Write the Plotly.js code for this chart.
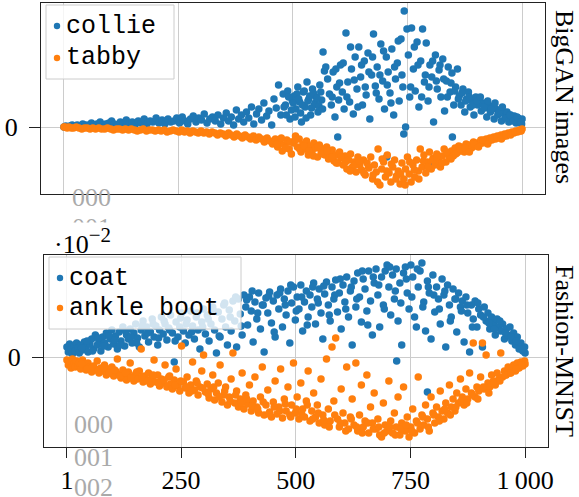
<!DOCTYPE html>
<html>
<head>
<meta charset="utf-8">
<script src="https://cdn.plot.ly/plotly-3.0.1.min.js"></script>
<style>html,body{margin:0;padding:0;background:#fff;}#chart{width:579px;height:497px;}</style>
</head>
<body>
<div id="chart"></div>
<script>
// ---------- data ----------
const tickVals = [1, 250, 500, 750, 1000];
const tickText = ['1', '250', '500', '750', '1\u2009000'];
const rowLabels = ['BigGAN images', 'Fashion-MNIST'];
const seriesNames = ['collie', 'tabby', 'coat', 'ankle boot'];

// BigGAN images — collie
const xCollie = [1,5,9,14,19,24,30,36,42,48,55,61,67,73,80,86,92,99,105,111,118,124,131,137,143,150,156,163,169,176,182,189,195,202,208,215,221,228,234,241,
247,253,259,265,271,277,283,289,295,301,307,313,319,325,331,337,343,349,
355,360,366,371,377,382,388,393,399,404,410,415,421,426,432,437,443,448,454,459,464,469,474,479,484,489,494,499,
503,507,511,515,519,523,527,531,535,539,543,547,551,555,559,563,566,569,572,
576,580,584,588,592,596,598,600,604,608,612,616,620,624,628,632,636,640,644,648,652,656,660,664,668,672,676,680,
684,688,692,696,700,704,705,708,712,716,720,724,728,732,736,740,742,743,746,749,752,755,
759,763,767,771,775,779,783,787,791,795,799,800,803,804,807,811,815,819,823,827,831,835,839,843,847,848,851,855,859,
863,867,871,875,879,883,887,891,895,899,903,907,911,915,919,923,927,931,935,939,943,947,951,955,959,963,967,971,975,979,983,987,991,995,999,1000,
481,486,491,497,501,505,509,513,517,521,525,529,533,537,541,545,549,553,557,561,565,
586,594,602,610,618,626,634,642,650,658,666,674,682,690,698,706,714,722,730,738,
757,765,773,781,789,797,805,813,821,829,837,845,853,861,869,877,885,893,901,909,917,925,933,941,949,957,965,973,981,989,997];
const yCollie = [0.00,0.01,0.00,0.01,0.02,0.01,0.02,0.01,0.03,0.02,0.02,0.04,0.02,0.03,0.05,0.02,0.03,0.04,0.06,0.03,0.02,0.05,0.04,0.07,0.03,0.05,0.02,0.06,0.04,0.08,0.03,0.06,0.05,0.09,0.04,0.07,0.03,0.08,0.05,0.06,
0.09,0.04,0.10,0.06,0.03,0.08,0.11,0.05,0.09,0.07,0.13,0.04,0.08,0.10,0.06,0.12,0.03,0.09,
0.14,0.06,0.10,0.02,0.17,0.08,0.12,0.05,0.15,0.09,0.20,0.03,0.13,0.18,0.07,0.24,0.11,0.16,0.02,0.28,0.19,0.42,0.12,0.33,0.22,0.36,0.08,0.26,
0.31,0.18,0.40,0.25,0.05,0.35,0.20,0.45,0.28,0.12,0.38,0.22,0.30,0.15,0.42,0.27,0.75,0.56,0.60,
0.48,0.33,0.22,0.55,0.10,0.40,-0.10,0.27,0.62,0.35,0.18,0.94,0.45,0.25,0.58,0.13,0.70,0.38,0.80,0.50,0.22,0.66,0.32,0.74,0.08,0.52,0.93,0.41,
0.60,0.28,0.83,0.46,0.18,0.70,-0.30,0.55,0.34,0.78,0.12,0.48,0.64,0.26,0.88,0.40,-0.07,1.16,0.00,0.98,0.72,0.30,
0.99,0.58,0.36,0.85,0.20,0.66,0.98,0.45,0.84,0.26,0.62,-0.40,0.50,-0.38,0.05,0.72,0.38,0.57,0.30,0.68,0.16,0.46,0.60,0.35,0.54,-0.10,0.22,0.40,0.58,
0.31,0.22,0.38,0.15,0.28,0.35,0.20,0.26,0.12,0.30,0.22,0.27,0.16,0.24,0.19,0.10,0.22,0.15,0.20,0.08,0.18,0.12,0.16,0.06,0.14,0.10,0.15,0.05,0.12,0.08,0.11,0.04,0.09,0.06,0.03,0.08,
0.20,0.12,0.30,0.17,0.24,0.10,0.33,0.28,0.14,0.22,0.36,0.09,0.26,0.31,0.19,0.34,0.24,0.29,0.21,0.35,0.18,
0.30,0.58,0.44,0.64,0.30,0.80,0.47,0.20,0.62,0.40,0.55,0.70,0.34,0.52,0.76,0.42,0.24,0.60,0.86,0.52,
0.40,0.80,0.62,0.30,0.52,0.40,0.66,0.46,0.62,0.48,0.30,0.44,0.36,0.28,0.34,0.26,0.30,0.22,0.26,0.30,0.20,0.26,0.18,0.24,0.14,0.20,0.09,0.12,0.06,0.10,0.05];

// BigGAN images — tabby
const xTabby = [1,4,8,12,17,22,28,34,40,46,52,58,64,70,77,83,90,96,103,109,116,122,129,135,142,148,155,161,168,174,181,187,194,200,207,213,220,226,233,239,
246,252,258,264,270,276,282,288,294,300,306,312,318,324,330,336,342,348,354,360,366,372,378,384,390,396,402,408,414,420,426,432,438,444,450,456,462,467,472,477,482,487,492,497,
502,506,510,514,518,522,526,530,534,538,542,546,550,554,558,562,566,570,574,578,582,586,590,594,598,602,606,610,614,618,622,626,630,634,638,642,646,650,654,658,662,666,670,674,678,682,686,690,694,698,
702,706,710,714,718,722,726,730,734,738,742,746,750,754,758,762,766,770,774,778,782,786,790,794,798,802,806,810,814,818,822,826,830,834,838,842,846,850,854,858,862,866,870,874,878,882,886,890,894,898,
902,906,910,914,918,922,926,930,934,938,942,946,950,954,958,962,966,970,974,978,982,986,990,994,998,1000,
465,475,485,495,505,515,525,535,545,555,565,575,585,595,605,615,625,635,645,655,665,675,685,695,705,715,725,735,745,755,765,775,785,795,805,815,825,835,845,855,865,875,885,895,905,915,925,935,945,955,965,975,985,995];
const yTabby = [0.00,0.00,-0.01,0.00,-0.01,-0.01,0.00,-0.01,-0.02,-0.01,-0.01,-0.02,-0.01,-0.02,-0.01,-0.02,-0.02,-0.01,-0.02,-0.03,-0.02,-0.02,-0.03,-0.02,-0.03,-0.02,-0.03,-0.04,-0.03,-0.02,-0.04,-0.03,-0.03,-0.04,-0.03,-0.04,-0.03,-0.05,-0.04,-0.03,
-0.04,-0.05,-0.03,-0.05,-0.04,-0.06,-0.04,-0.05,-0.06,-0.04,-0.06,-0.05,-0.07,-0.05,-0.06,-0.08,-0.06,-0.07,-0.09,-0.06,-0.08,-0.10,-0.07,-0.09,-0.11,-0.08,-0.10,-0.12,-0.09,-0.13,-0.10,-0.12,-0.15,-0.11,-0.14,-0.17,-0.12,-0.20,-0.15,-0.24,-0.18,-0.13,-0.22,-0.27,
-0.16,-0.09,-0.20,-0.12,-0.25,-0.17,-0.22,-0.14,-0.28,-0.19,-0.24,-0.16,-0.21,-0.30,-0.18,-0.25,-0.22,-0.28,-0.20,-0.32,-0.26,-0.23,-0.34,-0.28,-0.36,-0.25,-0.31,-0.38,-0.29,-0.42,-0.33,-0.27,-0.40,-0.35,-0.45,-0.30,-0.38,-0.43,-0.33,-0.48,-0.36,-0.41,-0.30,-0.52,-0.38,-0.45,-0.22,-0.58,-0.42,-0.35,
-0.50,-0.28,-0.46,-0.55,-0.40,-0.33,-0.49,-0.44,-0.57,-0.36,-0.52,-0.42,-0.30,-0.47,-0.55,-0.38,-0.50,-0.33,-0.44,-0.22,-0.40,-0.28,-0.46,-0.35,-0.25,-0.42,-0.31,-0.38,-0.27,-0.34,-0.40,-0.29,-0.22,-0.35,-0.27,-0.31,-0.24,-0.29,-0.21,-0.26,-0.19,-0.24,-0.20,-0.25,-0.17,-0.22,-0.18,-0.21,-0.15,-0.19,
-0.16,-0.18,-0.13,-0.16,-0.14,-0.12,-0.15,-0.11,-0.13,-0.10,-0.12,-0.09,-0.11,-0.08,-0.10,-0.07,-0.09,-0.06,-0.07,-0.05,-0.06,-0.04,-0.05,-0.03,-0.04,-0.02,
-0.17,-0.11,-0.21,-0.15,-0.13,-0.22,-0.19,-0.24,-0.29,-0.20,-0.27,-0.24,-0.30,-0.36,-0.30,-0.35,-0.44,-0.38,-0.34,-0.46,-0.40,-0.48,-0.55,-0.32,-0.44,-0.37,-0.52,-0.47,-0.58,-0.35,-0.43,-0.52,-0.34,-0.40,-0.33,-0.30,-0.36,-0.25,-0.32,-0.27,-0.22,-0.21,-0.25,-0.17,-0.20,-0.13,-0.17,-0.12,-0.10,-0.12,-0.08,-0.08,-0.05,-0.04];

// Fashion-MNIST — coat (×10^-2)
const xCoat = [1,4,7,10,13,16,19,22,25,28,31,35,39,43,47,51,55,59,63,67,71,75,79,83,87,91,95,99,103,107,111,115,119,123,127,131,135,139,143,147,151,155,159,163,167,171,175,179,183,187,191,195,199,
203,207,211,215,219,223,227,231,235,239,243,247,251,255,259,263,267,271,275,279,283,287,291,295,299,303,307,311,315,319,323,327,331,335,339,343,347,351,355,359,363,367,371,375,379,383,387,391,395,399,
403,407,411,415,419,423,427,431,435,439,443,447,451,455,459,463,467,471,475,479,483,487,491,495,499,503,507,511,515,519,523,527,531,535,539,543,547,551,555,559,563,567,571,575,579,583,587,591,595,599,
603,607,611,615,619,623,627,631,635,639,643,647,651,655,659,663,667,671,675,679,683,687,691,695,699,703,707,711,715,719,720,723,727,731,735,739,743,747,751,755,759,763,767,771,775,779,783,787,787,791,795,799,
803,807,811,815,819,823,827,831,835,839,843,847,851,855,859,863,867,871,875,879,883,887,891,895,899,903,907,911,915,919,923,927,931,935,939,943,947,951,955,959,963,967,971,975,979,983,987,991,995,999,1000,
33,45,57,69,81,93,105,117,129,141,153,165,177,189,201,213,225,237,249,261,273,285,297,309,321,333,345,357,369,381,393,405,417,429,441,453,465,477,489,501,513,525,537,549,561,573,585,597,609,621,633,645,657,669,681,693,705,717,729,741,753,765,777,789,801,813,825,837,849,861,873,885,897,909,921,933,945,957,969,981,993];
const yCoat = [0.10,0.05,0.13,0.08,0.03,0.11,0.06,0.14,0.09,0.04,0.12,0.07,0.15,0.10,0.05,0.13,0.18,0.08,0.22,0.12,0.16,0.06,0.20,0.14,0.24,0.10,0.18,0.27,0.13,0.21,0.08,0.25,0.16,0.30,0.11,0.22,0.18,0.28,0.14,0.24,0.33,0.19,0.10,0.27,0.36,0.21,0.30,0.15,0.25,0.38,0.20,0.31,0.12,
0.27,0.40,0.23,0.33,0.17,0.29,0.42,0.24,-0.05,0.35,0.20,0.30,0.44,0.26,0.14,0.37,0.22,0.46,0.31,0.18,0.40,0.27,0.08,0.35,0.48,0.23,0.42,0.16,0.33,0.50,0.27,0.04,0.45,0.20,0.38,0.52,0.30,0.12,0.47,0.26,0.56,0.36,0.10,0.58,0.43,0.22,0.62,0.50,0.32,0.60,
0.46,0.15,0.55,0.38,0.64,0.28,0.52,0.05,0.59,0.44,0.65,0.34,0.56,0.20,0.62,0.48,0.68,0.30,0.58,0.42,0.66,0.14,0.54,0.70,0.37,0.60,0.48,0.72,0.26,0.55,0.66,0.40,0.62,0.50,0.74,0.33,0.58,0.68,0.44,0.18,0.63,0.75,0.52,0.36,0.70,0.58,0.77,0.45,0.64,0.28,
0.72,0.55,0.80,0.40,0.66,0.12,0.76,0.50,0.84,0.60,0.35,0.78,0.68,0.46,0.86,0.56,0.22,0.74,0.88,0.62,0.30,0.80,0.52,0.86,0.92,0.70,0.42,0.82,0.58,0.88,-0.04,0.36,0.74,0.12,0.84,0.90,0.64,0.48,0.92,0.80,0.40,0.30,0.70,0.86,0.94,0.55,0.26,0.76,-0.35,0.64,0.18,0.82,
0.45,0.70,0.58,0.33,0.78,0.62,0.10,0.72,0.52,0.40,0.68,0.58,0.25,0.64,0.50,0.56,0.15,0.60,0.44,0.05,0.52,0.38,0.56,0.30,0.48,0.42,0.10,0.50,0.36,0.44,0.28,0.40,0.34,0.22,0.38,0.30,0.26,0.33,0.18,0.28,0.22,0.30,0.16,0.24,0.12,0.20,0.08,0.14,0.06,0.10,0.04,
0.09,0.16,0.06,0.19,0.11,0.21,0.17,0.12,0.26,0.20,0.14,0.31,0.24,0.33,0.19,0.36,0.27,0.16,0.39,0.33,0.25,0.44,0.30,0.38,0.46,0.21,0.54,0.40,0.60,0.31,0.57,0.66,0.44,0.52,0.61,0.25,0.64,0.52,0.72,0.46,0.60,0.32,0.70,0.54,0.71,0.42,0.62,0.78,0.48,0.70,0.58,0.86,0.32,0.80,0.72,0.48,0.90,0.66,0.54,0.78,0.60,0.88,0.50,0.70,0.62,0.48,0.66,0.36,0.58,0.46,0.52,0.30,0.54,0.40,0.34,0.28,0.36,0.24,0.20,0.16,0.08];

// Fashion-MNIST — ankle boot (×10^-2)
const xBoot = [1,4,7,10,13,16,19,22,25,28,31,35,39,43,47,51,55,59,63,67,71,75,79,83,87,91,95,99,103,107,111,115,119,123,127,131,135,139,143,147,151,155,159,163,167,171,175,179,183,187,191,195,199,
203,207,211,215,219,223,227,231,235,239,243,247,251,255,259,263,267,271,275,279,283,287,291,295,299,303,307,311,315,319,323,327,331,335,339,343,347,351,355,359,363,367,371,375,379,383,387,391,395,399,
403,407,411,415,419,423,427,431,435,439,443,447,451,455,459,463,467,471,475,479,483,487,491,495,499,503,507,511,515,519,523,527,531,535,539,543,547,551,555,559,563,567,571,575,579,583,587,591,595,599,
603,607,611,615,619,623,627,631,635,639,643,647,651,655,659,663,667,671,675,679,683,687,691,695,699,703,707,711,715,719,723,727,731,735,739,743,747,751,755,759,763,767,771,775,779,783,787,791,795,799,
803,807,811,815,819,823,827,831,835,839,843,847,851,855,859,863,867,871,875,879,883,887,891,895,899,903,907,911,915,919,923,927,931,935,939,943,947,951,955,959,963,967,971,975,979,983,987,991,995,999,1000,
33,45,57,69,81,93,105,117,129,141,153,165,177,189,201,213,225,237,249,261,273,285,297,309,321,333,345,357,369,381,393,405,417,429,441,453,465,477,489,501,513,525,537,549,561,573,585,597,609,621,633,645,657,669,681,693,705,717,729,741,753,765,777,789,801,813,825,837,849,861,873,885,897,909,921,933,945,957,969,981,993];
const yBoot = [-0.03,-0.08,-0.05,-0.11,-0.02,-0.07,-0.10,-0.04,-0.09,-0.06,-0.12,-0.03,-0.08,-0.13,-0.06,-0.10,-0.15,-0.09,-0.12,-0.04,-0.16,-0.11,-0.14,-0.08,-0.18,-0.12,-0.15,-0.10,-0.19,-0.14,-0.02,-0.17,-0.21,-0.13,-0.18,-0.23,-0.15,-0.06,-0.20,-0.24,-0.17,-0.22,-0.14,0.08,-0.25,-0.19,-0.23,-0.16,-0.27,-0.21,-0.03,-0.25,-0.18,
-0.29,-0.22,-0.26,-0.08,-0.30,-0.20,-0.27,-0.32,-0.23,-0.12,-0.29,-0.34,0.11,-0.25,-0.31,-0.20,-0.36,-0.28,-0.05,-0.33,-0.24,-0.38,-0.30,-0.14,0.02,-0.35,-0.27,-0.41,-0.32,-0.18,-0.43,-0.36,-0.26,-0.08,-0.45,-0.38,-0.30,-0.48,-0.40,-0.22,0.04,-0.46,-0.34,-0.50,-0.42,-0.16,-0.52,-0.38,-0.47,-0.28,
-0.54,-0.44,-0.20,-0.50,-0.56,-0.40,-0.10,-0.58,-0.48,-0.33,-0.55,-0.60,-0.45,-0.24,-0.57,-0.50,-0.12,-0.61,-0.42,-0.54,-0.30,-0.58,-0.48,-0.06,-0.56,-0.40,-0.62,-0.26,-0.52,-0.60,-0.44,-0.14,-0.64,-0.54,-0.36,-0.60,-0.48,-0.66,-0.22,-0.58,-0.68,-0.02,-0.52,-0.64,0.10,-0.44,0.19,-0.62,-0.70,-0.32,
-0.56,-0.66,-0.10,-0.72,-0.60,-0.42,-0.68,-0.06,-0.74,-0.58,-0.28,-0.70,-0.64,-0.18,-0.76,-0.50,-0.66,-0.36,-0.72,-0.62,-0.78,-0.80,-0.46,-0.68,-0.74,-0.24,-0.64,-0.76,-0.56,-0.70,-0.40,-0.78,-0.66,-0.30,-0.74,-0.60,-0.80,-0.70,-0.52,-0.76,-0.64,-0.20,-0.72,-0.58,-0.68,-0.48,-0.62,-0.74,-0.40,-0.56,
-0.66,-0.50,-0.60,-0.34,-0.54,-0.62,-0.46,-0.56,-0.28,-0.50,-0.42,-0.54,-0.36,-0.46,-0.22,-0.40,-0.48,-0.32,-0.42,-0.16,-0.36,0.14,-0.40,-0.30,-0.34,-0.20,0.14,-0.32,0.02,-0.26,-0.30,-0.18,-0.24,-0.28,-0.16,-0.22,0.04,-0.20,-0.14,-0.18,-0.10,-0.16,-0.12,-0.08,-0.14,-0.06,-0.11,-0.05,-0.09,-0.04,-0.07,
-0.07,-0.12,-0.10,-0.14,-0.11,-0.16,-0.13,-0.19,-0.16,-0.21,-0.15,-0.20,-0.24,-0.18,-0.26,-0.23,-0.19,-0.28,-0.24,-0.30,-0.34,-0.26,-0.31,-0.37,-0.30,-0.40,-0.34,-0.44,-0.38,-0.46,-0.42,-0.49,-0.52,-0.45,-0.57,-0.50,-0.54,-0.47,-0.60,-0.52,-0.57,-0.48,-0.62,-0.56,-0.63,-0.70,-0.58,-0.66,-0.74,-0.62,-0.70,-0.76,-0.66,-0.72,-0.70,-0.76,-0.70,-0.78,-0.72,-0.68,-0.74,-0.66,-0.60,-0.70,-0.58,-0.64,-0.52,-0.58,-0.50,-0.44,-0.46,-0.38,-0.42,-0.30,-0.36,-0.26,-0.24,-0.18,-0.16,-0.12,-0.08];

// ---------- layout helpers (pixel -> paper) ----------
const W = 579, H = 497;
const px = v => v / W;
const py = v => 1 - v / H;
const BLUE = '#1f77b4', ORANGE = '#ff7f0e';
const SERIF = 'Liberation Serif, Times New Roman, serif';
const MONO = 'Liberation Mono, Courier New, monospace';

function sc(x, y, color, name, xa, ya) {
  return {type: 'scatter', mode: 'markers', x: x, y: y, name: name, xaxis: xa, yaxis: ya,
    marker: {color: color, size: 7.5, line: {width: 0}}, showlegend: false, hoverinfo: 'skip'};
}
const data = [
  sc(xCollie, yCollie, BLUE, seriesNames[0], 'x', 'y'),
  sc(xTabby, yTabby, ORANGE, seriesNames[1], 'x', 'y'),
  sc(xCoat, yCoat, BLUE, seriesNames[2], 'x2', 'y2'),
  sc(xBoot, yBoot, ORANGE, seriesNames[3], 'x2', 'y2')
];

const xr = [-48.95, 1049.95];
const common = {showgrid: true, gridcolor: '#cccccc', gridwidth: 1, zeroline: false,
  showline: true, mirror: true, linecolor: '#222', linewidth: 1, fixedrange: true};
const tickfont = {family: SERIF, size: 26, color: '#000'};

const layout = {
  width: W, height: H, margin: {l: 0, r: 0, t: 0, b: 0},
  paper_bgcolor: '#fff', plot_bgcolor: '#fff', showlegend: false, hovermode: false,
  xaxis: Object.assign({}, common, {domain: [px(41), px(545)], anchor: 'y', range: xr,
    tickmode: 'array', tickvals: tickVals, showticklabels: false, ticks: ''}),
  yaxis: Object.assign({}, common, {domain: [py(194), py(3)], anchor: 'x', range: [-0.67, 1.24],
    tickmode: 'array', tickvals: [0], ticktext: ['0'], ticks: 'outside', ticklen: 11, tickcolor: '#222',
    tickfont: tickfont, ticklabelstandoff: 6}),
  xaxis2: Object.assign({}, common, {domain: [px(44), px(548)], anchor: 'y2', range: xr,
    tickmode: 'array', tickvals: tickVals, ticktext: tickText, ticks: 'outside', ticklen: 10, tickcolor: '#222',
    tickfont: tickfont}),
  yaxis2: Object.assign({}, common, {domain: [py(447), py(255)], anchor: 'x2', range: [-0.90, 1.02],
    tickmode: 'array', tickvals: [0], ticktext: ['0'], ticks: 'outside', ticklen: 11, tickcolor: '#222',
    tickfont: tickfont, ticklabelstandoff: 6}),
  shapes: [], annotations: []
};

function legendBox(x0, y0, x1, y1) {
  layout.shapes.push({type: 'rect', xref: 'paper', yref: 'paper', layer: 'above',
    x0: px(x0), x1: px(x1), y0: py(y1), y1: py(y0),
    fillcolor: 'rgba(255,255,255,0.8)', line: {color: '#cccccc', width: 1}});
}
function legendEntry(cx, cy, color, text) {
  layout.shapes.push({type: 'circle', xref: 'paper', yref: 'paper', layer: 'above',
    xsizemode: 'pixel', ysizemode: 'pixel', xanchor: px(cx), yanchor: py(cy),
    x0: -3.2, x1: 3.2, y0: -3.2, y1: 3.2, fillcolor: color, line: {width: 0}});
  layout.annotations.push({text: text, xref: 'paper', yref: 'paper', x: px(cx + 7), y: py(cy),
    xanchor: 'left', yanchor: 'middle', showarrow: false, font: {family: MONO, size: 25, color: '#000'}});
}
legendBox(46, 5, 174, 79);
legendEntry(57, 26, BLUE, seriesNames[0]);
legendEntry(57, 58, ORANGE, seriesNames[1]);
legendBox(49, 257, 241, 329);
legendEntry(60, 278, BLUE, seriesNames[2]);
legendEntry(60, 308, ORANGE, seriesNames[3]);

function ann(text, x, y, opts) {
  layout.annotations.push(Object.assign({text: text, xref: 'paper', yref: 'paper', x: px(x), y: py(y),
    xanchor: 'center', yanchor: 'middle', showarrow: false, font: {family: SERIF, size: 26, color: '#000'}}, opts || {}));
}
ann(rowLabels[0], 565, 97, {textangle: 90});
ann(rowLabels[1], 565, 351, {textangle: 90});
const GRAY = {family: SERIF, size: 26, color: '#aaaaaa'};
ann('000', 91, 197, {font: GRAY});
ann('001', 91, 227, {font: GRAY});
ann('&nbsp;', 91, 231, {width: 46, height: 14, bgcolor: '#ffffff', font: GRAY});
ann('000', 93, 424, {font: GRAY});
ann('001', 93, 457, {font: GRAY});
ann('002', 93, 487, {font: GRAY});
ann('·10<sup><span style="font-size:21px">−2</span></sup>', 52, 241, {xanchor: 'left'});

Plotly.newPlot('chart', data, layout, {staticPlot: true, displayModeBar: false});
</script>
</body>
</html>
